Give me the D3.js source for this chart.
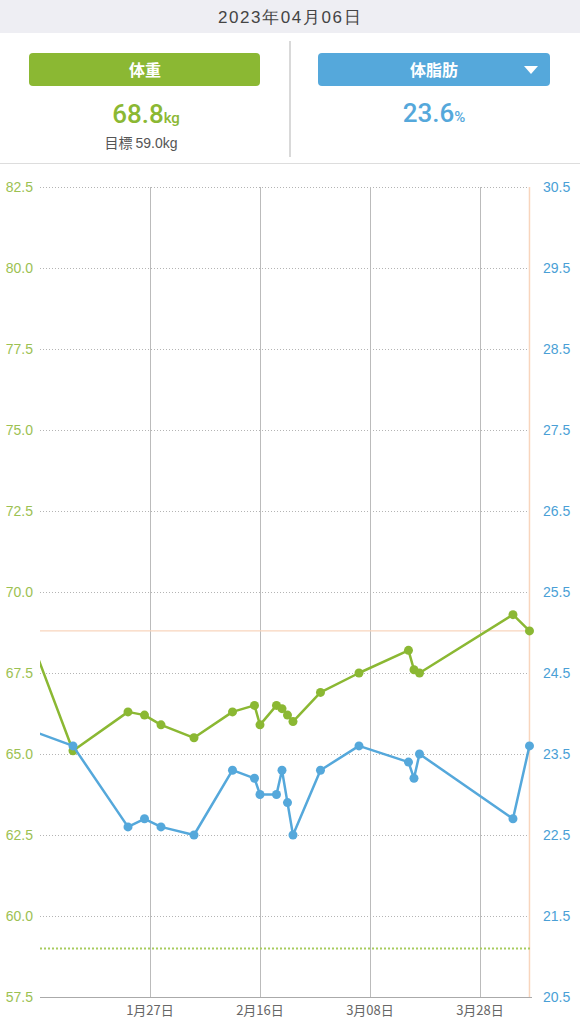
<!DOCTYPE html>
<html>
<head>
<meta charset="utf-8">
<script src="https://cdn.jsdelivr.net/npm/d3@7/dist/d3.min.js"></script>
<style>
  html, body { margin: 0; padding: 0; background: #fff; }
  svg { display: block; }
</style>
</head>
<body>
<svg id="chart" width="580" height="1024"></svg>
<script>
// ---- data ----
const dates = ["2023-01-05","2023-01-13","2023-01-23","2023-01-26","2023-01-29","2023-02-04","2023-02-11","2023-02-15","2023-02-16","2023-02-19","2023-02-20","2023-02-21","2023-02-22","2023-02-27","2023-03-06","2023-03-15","2023-03-16","2023-03-17","2023-04-03","2023-04-06"];
const weight = [68.7,65.1,66.3,66.2,65.9,65.5,66.3,66.5,65.9,66.5,66.4,66.2,66.0,66.9,67.5,68.2,67.6,67.5,69.3,68.8];
const bodyFat = [23.8,23.6,22.6,22.7,22.6,22.5,23.3,23.2,23.0,23.0,23.3,22.9,22.5,23.3,23.6,23.4,23.2,23.5,22.7,23.6];
const weightTicks = [82.5,80.0,77.5,75.0,72.5,70.0,67.5,65.0,62.5,60.0,57.5];
const fatTicks = [30.5,29.5,28.5,27.5,26.5,25.5,24.5,23.5,22.5,21.5,20.5];
const xTickDates = ["2023-01-27","2023-02-16","2023-03-08","2023-03-28"];
const xTickLabels = ["1月27日","2月16日","3月08日","3月28日"];
const goalWeight = 59.0;
const currentWeight = 68.8;
const currentFat = 23.6;
const currentDate = "2023-04-06";
const headerDate = "2023年04月06日";

(function(){
const svg = d3.select("#chart");
const parse = d3.timeParse("%Y-%m-%d");
const GREEN = "#8BB833", BLUE = "#55A8DB", LGREEN = "#9CC152", ORANGE = "#F8D5BD";
const NUM = "'Helvetica Neue', Helvetica, 'Liberation Sans', Arial, sans-serif";
const BIG = "Roboto, 'Liberation Sans', sans-serif";
const JP = "'Noto Sans CJK JP', 'Noto Sans', sans-serif";

const pL = 40, pR = 532, pT = 187, pB = 997;
const x = d3.scaleTime()
  .domain([new Date(2023,0,7), new Date(2023,3,6,11)])
  .range([pL, pR]);
const yW = d3.scaleLinear().domain([57.5, 82.5]).range([pB, pT]);
const yF = d3.scaleLinear().domain([20.5, 30.5]).range([pB, pT]);

// ---- header ----
svg.append("rect").attr("x",0).attr("y",0).attr("width",580).attr("height",33).attr("fill","#EEEEF3");
svg.append("text").attr("x",290).attr("y",23).attr("text-anchor","middle")
  .attr("font-family", NUM).attr("font-size",17).attr("letter-spacing",1.6).attr("fill","#444")
  .text(headerDate);

svg.append("rect").attr("x",29).attr("y",53).attr("width",231).attr("height",33).attr("rx",4).attr("fill",GREEN);
svg.append("text").attr("x",145).attr("y",75.5).attr("text-anchor","middle")
  .attr("font-family",JP).attr("font-weight","bold").attr("font-size",16).attr("fill","#fff").text("体重");
svg.append("rect").attr("x",318).attr("y",53).attr("width",232).attr("height",33).attr("rx",4).attr("fill",BLUE);
svg.append("text").attr("x",434).attr("y",75.5).attr("text-anchor","middle")
  .attr("font-family",JP).attr("font-weight","bold").attr("font-size",16).attr("fill","#fff").text("体脂肪");
svg.append("path").attr("d","M524,66 L538,66 L531,74 Z").attr("fill","#fff");

const t1 = svg.append("text").attr("x",146).attr("y",123).attr("text-anchor","middle").attr("font-family",BIG).attr("fill",GREEN);
t1.append("tspan").attr("font-size",26).attr("font-weight",500).text(currentWeight.toFixed(1));
t1.append("tspan").attr("font-size",15).attr("font-weight",500).text("kg");
const t2 = svg.append("text").attr("x",141).attr("y",148).attr("text-anchor","middle").attr("fill","#555").attr("font-size",14);
t2.append("tspan").attr("font-family",JP).text("目標 ");
t2.append("tspan").attr("font-family",NUM).text(goalWeight.toFixed(1) + "kg");
const t3 = svg.append("text").attr("x",434).attr("y",122).attr("text-anchor","middle").attr("font-family",BIG).attr("fill",BLUE);
t3.append("tspan").attr("font-size",26).attr("font-weight",500).text(currentFat.toFixed(1));
t3.append("tspan").attr("font-size",15).attr("font-weight",500).text("%");

svg.append("line").attr("x1",290).attr("x2",290).attr("y1",41).attr("y2",157).attr("stroke","#CCCCCC").attr("stroke-width",1.5);
svg.append("line").attr("x1",0).attr("x2",580).attr("y1",163.5).attr("y2",163.5).attr("stroke","#DDDDDD").attr("stroke-width",1);

// ---- chart ----
const g = svg.append("g");

g.selectAll(".hg").data(weightTicks.filter(v => v > 57.5)).join("line")
  .attr("x1",pL).attr("x2",pR).attr("y1",d=>yW(d)+0.5).attr("y2",d=>yW(d)+0.5)
  .attr("stroke","#B4B4B4").attr("stroke-width",1).attr("stroke-dasharray","1,2");

g.selectAll(".vg").data(xTickDates).join("line")
  .attr("x1",d=>Math.round(x(parse(d)))+0.5).attr("x2",d=>Math.round(x(parse(d)))+0.5)
  .attr("y1",pT).attr("y2",pB).attr("stroke","#BBBBBB").attr("stroke-width",1);

g.append("line").attr("x1",x(parse(currentDate))).attr("x2",x(parse(currentDate)))
  .attr("y1",pT).attr("y2",pB).attr("stroke",ORANGE).attr("stroke-width",1.5);
g.append("line").attr("x1",pL).attr("x2",pR).attr("y1",yW(currentWeight)).attr("y2",yW(currentWeight))
  .attr("stroke",ORANGE).attr("stroke-width",1.2);

g.append("line").attr("x1",pL).attr("x2",pR).attr("y1",yW(goalWeight)).attr("y2",yW(goalWeight))
  .attr("stroke","#A8CC5E").attr("stroke-width",2).attr("stroke-dasharray","2,2");

g.append("line").attr("x1",pL).attr("x2",pR).attr("y1",pB+0.5).attr("y2",pB+0.5)
  .attr("stroke","#AAAAAA").attr("stroke-width",1);

g.selectAll(".lt").data(weightTicks).join("text")
  .attr("x",33).attr("y",d=>yW(d)+5).attr("text-anchor","end")
  .attr("font-family",NUM).attr("font-size",14).attr("fill",LGREEN).text(d=>d.toFixed(1));
g.selectAll(".rt").data(fatTicks).join("text")
  .attr("x",543).attr("y",d=>yF(d)+5).attr("text-anchor","start")
  .attr("font-family",NUM).attr("font-size",14).attr("fill","#4A9FD6").text(d=>d.toFixed(1));
g.selectAll(".xt").data(xTickDates).join("text")
  .attr("x",d=>x(parse(d))).attr("y",1015).attr("text-anchor","middle")
  .attr("font-family",JP).attr("font-size",13).attr("fill","#666").text((d,i)=>xTickLabels[i]);

svg.append("defs").append("clipPath").attr("id","clip")
  .append("rect").attr("x",pL).attr("y",pT-10).attr("width",pR-pL+10).attr("height",pB-pT+20);

const plot = svg.append("g").attr("clip-path","url(#clip)");
const wData = dates.map((d,i)=>({date:parse(d), v:weight[i]}));
const fData = dates.map((d,i)=>({date:parse(d), v:bodyFat[i]}));

const lineW = d3.line().x(d=>x(d.date)).y(d=>yW(d.v));
const lineF = d3.line().x(d=>x(d.date)).y(d=>yF(d.v));

plot.append("path").datum(wData).attr("d",lineW).attr("fill","none").attr("stroke",GREEN).attr("stroke-width",2.5).attr("stroke-linejoin","round");
plot.selectAll(".wd").data(wData.slice(1)).join("circle")
  .attr("cx",d=>x(d.date)).attr("cy",d=>yW(d.v)).attr("r",4.5).attr("fill",GREEN);

plot.append("path").datum(fData).attr("d",lineF).attr("fill","none").attr("stroke",BLUE).attr("stroke-width",2.5).attr("stroke-linejoin","round");
plot.selectAll(".fd").data(fData.slice(1)).join("circle")
  .attr("cx",d=>x(d.date)).attr("cy",d=>yF(d.v)).attr("r",4.5).attr("fill",BLUE);
})();
</script>
</body>
</html>
